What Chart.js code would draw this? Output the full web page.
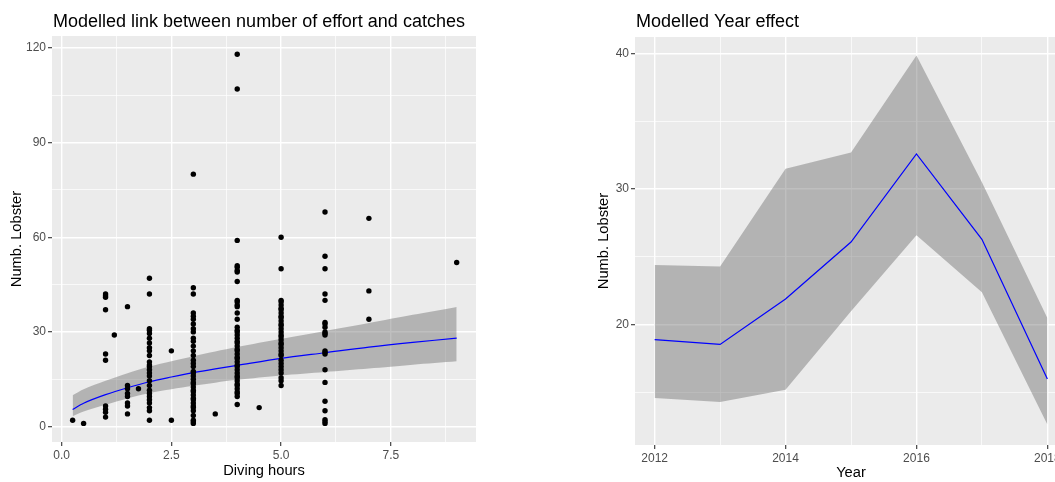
<!DOCTYPE html>
<html>
<head>
<meta charset="utf-8">
<script src="https://cdn.jsdelivr.net/npm/chart.js@4.4.1/dist/chart.umd.min.js"></script>
<style>
    html, body { margin: 0; padding: 0; width: 1055px; height: 482px; overflow: hidden; background: #fff; }
    .panel { position: absolute; top: 0; height: 482px; }
    #leftPanel { left: 0; width: 486px; }
    #rightPanel { left: 590px; width: 482px; }
</style>
</head>
<body>
<div class="panel" id="leftPanel"><canvas id="effortChart"></canvas></div>
<div class="panel" id="rightPanel"><canvas id="yearChart"></canvas></div>
<script>
// --- Left panel: observed catches by diving hours ---
const catch1h = [42, 41.5, 41, 37, 23, 21, 6.5, 5.5, 4.5, 3];
const catch1_5h = [38, 13, 12, 10.5, 9.5, 7.5, 6.5, 4];
const catch2h = [47, 42, 31, 30.5, 29.5, 28, 26.5, 25, 24, 22.5, 20.5, 19.5, 19, 18, 17, 16, 14.5, 13, 11.5, 10.5, 9.5, 8.5, 7.5, 6, 5, 2];
const catch3h = [80, 44, 42, 36, 35, 34, 32.5, 31, 30, 28, 27, 25.5, 24, 22.5, 21, 20, 19, 17.5, 17, 16, 15, 14, 13.5, 12.5, 11.5, 11, 10, 9, 8.5, 7.5, 6.5, 6, 5, 3.5, 2, 1.5, 1];
const catch4h = [118, 107, 59, 51, 50.5, 49.5, 49, 46, 40, 39.5, 38.5, 38, 36, 34, 31.5, 30.5, 30, 29, 28, 27, 26.5, 25.5, 24.5, 24, 23, 22, 21.5, 20.5, 19.5, 19, 18, 17, 16, 15.5, 14.5, 13.5, 13, 12, 11, 10.5, 9.5, 7];
const catch5h = [60, 50, 40, 39.5, 38.5, 37.5, 37, 36, 35, 34.5, 33.5, 32.5, 32, 31, 30, 29, 28.5, 27.5, 26.5, 26, 25, 24, 23, 22.5, 21, 20, 19, 18, 17, 15.5, 14.5, 13];
const catch6h = [68, 54, 50, 42, 40, 33, 32.5, 31.5, 30, 29.5, 29, 24, 23.5, 23, 18, 14, 8, 5, 2.2, 1.6, 1];
const catch7h = [66, 43, 34];
const oddHours = [0.25, 0.5, 1.2, 1.75, 2.5, 2.5, 3.5, 4.5, 9];
const oddCatch = [2, 1, 29, 12, 24, 2, 4, 6, 52];

// fitted curve and confidence band
const fitHours = [0.25, 0.5, 1, 1.5, 2, 2.5, 3, 3.5, 4, 5, 6, 7, 8, 9];
const fitCatch = [5.4, 7.4, 10.1, 12.3, 14.2, 15.7, 17.1, 18.3, 19.4, 21.6, 23.4, 25.2, 26.7, 28.0];
const fitUpper = [9.9, 11.8, 14.5, 16.9, 19.0, 20.7, 22.3, 23.8, 25.2, 27.8, 30.3, 32.8, 35.4, 37.9];
const fitLower = [3.3, 4.8, 6.9, 8.9, 10.6, 11.8, 12.9, 13.9, 14.8, 16.2, 17.3, 18.4, 19.6, 20.7];

const hoursMajor = [0, 2.5, 5, 7.5];
const hoursMinor = [1.25, 3.75, 6.25, 8.75];
const lobsterMajor = [0, 30, 60, 90, 120];
const lobsterMinor = [15, 45, 75, 105];

// --- Right panel: year effect ---
const years = [2012, 2013, 2014, 2015, 2016, 2017, 2018];
const yearFit = [18.9, 18.55, 21.9, 26.1, 32.6, 26.3, 16.0];
const yearUpper = [24.4, 24.3, 31.5, 32.7, 39.85, 30.5, 20.5];
const yearLower = [14.6, 14.3, 15.2, 21.0, 26.6, 22.4, 12.65];

const yearMajor = [2012, 2014, 2016, 2018];
const yearMinor = [2013, 2015, 2017];
const yearLobMajor = [20, 30, 40];
const yearLobMinor = [15, 25, 35];

const FONT = "'Liberation Sans', Arial, sans-serif";
const TICK_GREY = '#4D4D4D';
const RIBBON = 'rgba(102, 102, 102, 0.42)';

function pairs(xs, ys) {
    return xs.map((x, i) => ({ x: x, y: ys[i] }));
}

function column(hour, values) {
    return values.map(v => ({ x: hour, y: v }));
}

// ggplot-like panel background + title at the panel's left edge
const panelPlugin = {
    id: 'panelBg',
    beforeDraw(chart, args, opts) {
        const { ctx, chartArea } = chart;
        ctx.save();
        ctx.fillStyle = '#EBEBEB';
        ctx.fillRect(chartArea.left, chartArea.top, chartArea.right - chartArea.left, chartArea.bottom - chartArea.top);
        ctx.restore();
    },
    afterDraw(chart, args, opts) {
        const { ctx, chartArea } = chart;
        ctx.save();
        ctx.fillStyle = '#000';
        ctx.font = '18px ' + FONT;
        ctx.textBaseline = 'alphabetic';
        ctx.textAlign = 'left';
        ctx.fillText(opts.text, chartArea.left + 1, 27);
        ctx.restore();
    }
};

function ggAxis(major, minor, fmt, extra) {
    return Object.assign({
        type: 'linear',
        afterBuildTicks: axis => {
            axis.ticks = major.concat(minor).sort((a, b) => a - b).map(v => ({ value: v }));
        },
        grid: {
            color: '#FFFFFF',
            lineWidth: ctx => (ctx.tick && major.includes(ctx.tick.value)) ? 1.4 : 0.7,
            tickColor: ctx => (ctx.tick && major.includes(ctx.tick.value)) ? '#333333' : 'rgba(0,0,0,0)',
            tickLength: 4,
            tickWidth: 1.1
        },
        border: { display: false },
        ticks: {
            autoSkip: false,
            maxRotation: 0,
            padding: 2,
            color: TICK_GREY,
            font: { family: FONT, size: 12 },
            callback: v => major.includes(v) ? fmt(v) : ''
        }
    }, extra);
}

Chart.defaults.animation = false;

new Chart(document.getElementById('effortChart'), {
    type: 'line',
    data: {
        datasets: [
            {
                data: [].concat(
                    column(1, catch1h), column(1.5, catch1_5h), column(2, catch2h),
                    column(3, catch3h), column(4, catch4h), column(5, catch5h),
                    column(6, catch6h), column(7, catch7h), pairs(oddHours, oddCatch)
                ),
                showLine: false,
                pointRadius: 2.7,
                pointBackgroundColor: '#000',
                pointBorderWidth: 0,
                order: 0
            },
            {
                data: pairs(fitHours, fitCatch),
                borderColor: '#0000FF',
                borderWidth: 1.2,
                pointRadius: 0,
                tension: 0.3,
                order: 1
            },
            {
                data: pairs(fitHours, fitUpper),
                borderWidth: 0,
                pointRadius: 0,
                tension: 0.3,
                backgroundColor: RIBBON,
                fill: '+1',
                order: 2
            },
            {
                data: pairs(fitHours, fitLower),
                borderWidth: 0,
                pointRadius: 0,
                tension: 0.3,
                fill: false,
                order: 3
            }
        ]
    },
    options: {
        responsive: true,
        maintainAspectRatio: false,
        layout: { padding: { top: 36, right: 10, bottom: 0, left: 0 } },
        scales: {
            x: ggAxis(hoursMajor, hoursMinor, v => v.toFixed(1), {
                min: -0.22,
                max: 9.44,
                afterFit: s => { s.height = 40; },
                title: { display: true, text: 'Diving hours', color: '#000', font: { family: FONT, size: 14.7 }, padding: { top: 0, bottom: 2 } }
            }),
            y: ggAxis(lobsterMajor, lobsterMinor, v => String(v), {
                min: -4.9,
                max: 123.8,
                afterFit: s => { s.width = 52; },
                title: { display: true, text: 'Numb. Lobster', color: '#000', font: { family: FONT, size: 14.7 }, padding: { top: 8, bottom: 0 } }
            })
        },
        plugins: {
            legend: { display: false },
            tooltip: { enabled: false },
            panelBg: { text: 'Modelled link between number of effort and catches' }
        }
    },
    plugins: [panelPlugin]
});

new Chart(document.getElementById('yearChart'), {
    type: 'line',
    data: {
        datasets: [
            {
                data: pairs(years, yearFit),
                borderColor: '#0000FF',
                borderWidth: 1.2,
                pointRadius: 0,
                order: 0
            },
            {
                data: pairs(years, yearUpper),
                borderWidth: 0,
                pointRadius: 0,
                backgroundColor: RIBBON,
                fill: '+1',
                order: 1
            },
            {
                data: pairs(years, yearLower),
                borderWidth: 0,
                pointRadius: 0,
                fill: false,
                order: 2
            }
        ]
    },
    options: {
        responsive: true,
        maintainAspectRatio: false,
        layout: { padding: { top: 37, right: 5, bottom: 0, left: 0 } },
        scales: {
            x: ggAxis(yearMajor, yearMinor, v => String(v), {
                min: 2011.7,
                max: 2018.3,
                afterFit: s => { s.height = 37; },
                title: { display: true, text: 'Year', color: '#000', font: { family: FONT, size: 14.7 }, padding: { top: 0, bottom: 0 } }
            }),
            y: ggAxis(yearLobMajor, yearLobMinor, v => String(v), {
                min: 11.13,
                max: 41.22,
                afterFit: s => { s.width = 45; },
                title: { display: true, text: 'Numb. Lobster', color: '#000', font: { family: FONT, size: 14.7 }, padding: { top: 5, bottom: 0 } }
            })
        },
        plugins: {
            legend: { display: false },
            tooltip: { enabled: false },
            panelBg: { text: 'Modelled Year effect' }
        }
    },
    plugins: [panelPlugin]
});
</script>
</body>
</html>
